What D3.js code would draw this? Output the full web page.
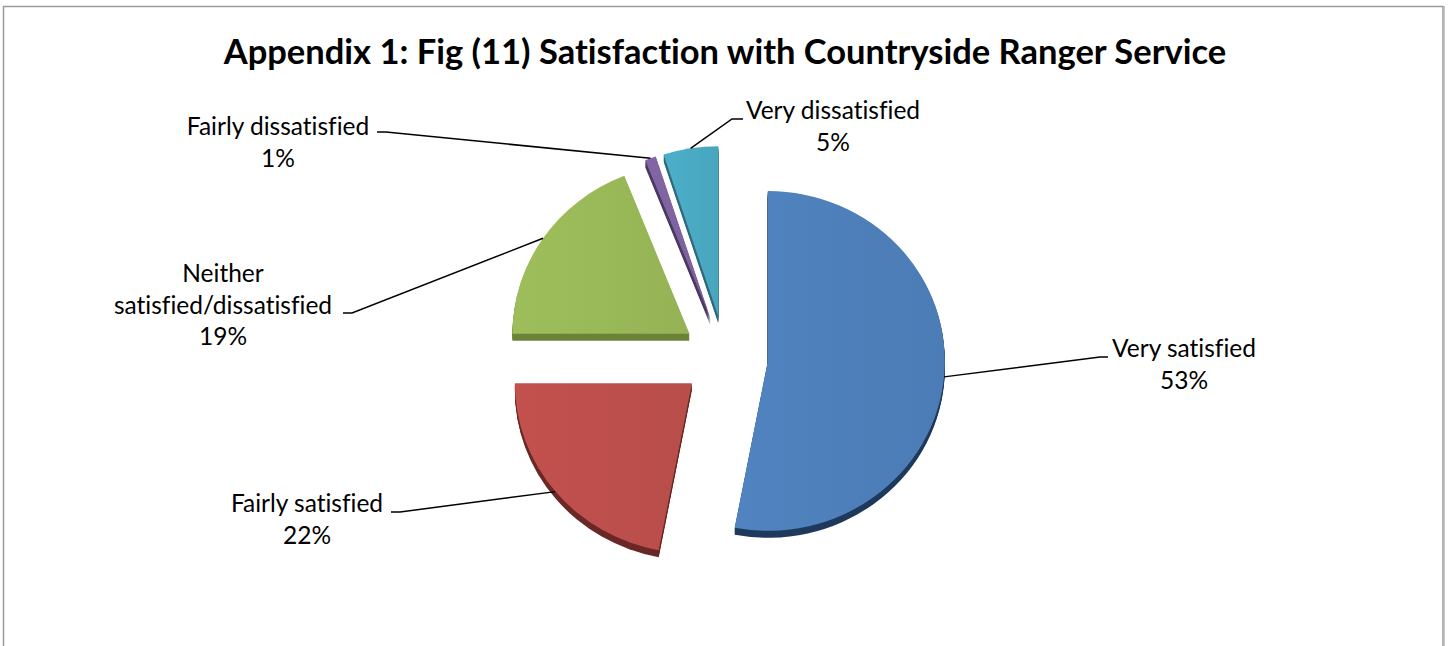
<!DOCTYPE html>
<html>
<head>
<meta charset="utf-8">
<script src="https://cdn.jsdelivr.net/npm/d3@7"></script>
<style>
	body { margin: 0; background: #fff; }
	text { font-family: Lato, 'Open Sans', sans-serif; fill: #000; font-variant-ligatures: none; }
</style>
</head>
<body>
<svg id="chart" width="1451" height="646"></svg>
<script>
/*
*	Data
*/
const title = 'Appendix 1: Fig (11) Satisfaction with Countryside Ranger Service';
const categories = ['Very satisfied', 'Fairly satisfied', 'Neither satisfied/dissatisfied', 'Fairly dissatisfied', 'Very dissatisfied'];
const values = [53, 22, 19, 1, 5];
const labelLines = [['Very satisfied'], ['Fairly satisfied'], ['Neither', 'satisfied/dissatisfied'], ['Fairly dissatisfied'], ['Very dissatisfied']];

/*
*	Look
*/
const topColors = ['#4f81bd', '#c0504d', '#9bbb59', '#8064a2', '#4bacc6'];
const sideColors = ['#1f3a5c', '#6a2826', '#6b8239', '#4b3a63', '#2e6b7c'];

// label placement: text centre x, first baseline y, leader elbow [x near pie, x near text, y]
const labelLayout = [
	{ x: 1184, y: 357, elbow: [1100, 1108, 357] },
	{ x: 307, y: 512, elbow: [400, 391, 512] },
	{ x: 223, y: 282, elbow: [352, 343, 313] },
	{ x: 278, y: 135, elbow: [386, 377, 132] },
	{ x: 833, y: 119, elbow: [732, 743, 119] }
];

const W = 1451, H = 646;
const cx = 725, cy = 357, r = 177, sy = 0.96, explode = 43, depth = 7;

const svg = d3.select('#chart');

// outer frame
svg.append('path')
	.attr('d', 'M3.5,' + H + 'V6.5H1443V' + H)
	.attr('fill', 'none')
	.attr('stroke', '#9a9a9a')
	.attr('stroke-width', 1.5);
svg.append('line')
	.attr('x1', 1444).attr('x2', 1444).attr('y1', 6).attr('y2', H)
	.attr('stroke', '#b5b5b5').attr('stroke-width', 1.5);

svg.append('text')
	.attr('x', cx)
	.attr('y', 64)
	.attr('text-anchor', 'middle')
	.attr('font-weight', 'bold')
	.attr('font-size', 34.5)
	.text(title);

const defs = svg.append('defs');
topColors.forEach(function (c, i) {
	const g = defs.append('linearGradient')
		.attr('id', 'grad' + i)
		.attr('x1', '0').attr('x2', '1').attr('y1', '0').attr('y2', '0');
	g.append('stop').attr('offset', '0%').attr('stop-color', d3.color(c).brighter(0.05));
	g.append('stop').attr('offset', '100%').attr('stop-color', d3.color(c).darker(0.12));
});

const pie = d3.pie().sort(null).value(function (d) { return d; });
const arc = d3.arc().innerRadius(0).outerRadius(r);
const arcs = pie(values);

function offset(d) {
	const mid = (d.startAngle + d.endAngle) / 2;
	return [cx + Math.sin(mid) * explode, cy - Math.cos(mid) * explode * sy];
}

const slices = svg.append('g').attr('class', 'slices');

arcs.forEach(function (d, i) {
	const o = offset(d);
	const g = slices.append('g').attr('class', 'slice');
	// side walls: stacked copies of the face in a darker tone
	for (let k = depth; k >= 1; k--) {
		g.append('path')
			.attr('d', arc(d))
			.attr('fill', sideColors[i])
			.attr('transform', 'translate(' + o[0] + ',' + (o[1] + k) + ') scale(1,' + sy + ')');
	}
	g.append('path')
		.attr('d', arc(d))
		.attr('fill', 'url(#grad' + i + ')')
		.attr('transform', 'translate(' + o[0] + ',' + o[1] + ') scale(1,' + sy + ')');
});

// leader lines
const lines = svg.append('g').attr('class', 'leaders');
arcs.forEach(function (d, i) {
	const o = offset(d);
	const mid = (d.startAngle + d.endAngle) / 2;
	const start = [o[0] + Math.sin(mid) * r, o[1] - Math.cos(mid) * r * sy];
	const e = labelLayout[i].elbow;
	lines.append('path')
		.attr('d', d3.line()([start, [e[0], e[2]], [e[1], e[2]]]))
		.attr('fill', 'none')
		.attr('stroke', '#000')
		.attr('stroke-width', 1.5);
});

// labels
const labels = svg.append('g').attr('class', 'labels');
arcs.forEach(function (d, i) {
	const L = labelLayout[i];
	const t = labels.append('text')
		.attr('text-anchor', 'middle')
		.attr('font-size', 24.5);
	const rows = labelLines[i].concat([values[i] + '%']);
	rows.forEach(function (s, j) {
		t.append('tspan')
			.attr('x', L.x)
			.attr('y', L.y + j * 31.5)
			.text(s);
	});
});
</script>
</body>
</html>
